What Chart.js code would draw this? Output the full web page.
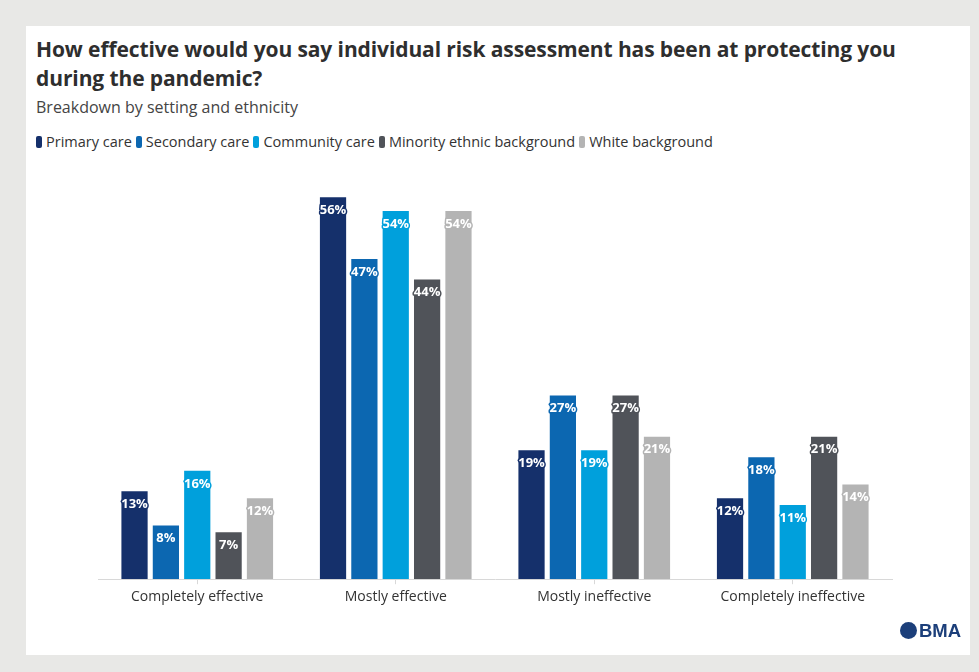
<!DOCTYPE html>
<html>
<head>
<meta charset="utf-8">
<script src="https://cdn.jsdelivr.net/npm/chart.js@4"></script>
<style>
  body { margin: 0; background: #e8e8e6; width: 979px; height: 672px; overflow: hidden; font-family: "Open Sans", sans-serif; }
  #panel { position: absolute; left: 26px; top: 26px; width: 944px; height: 629px; background: #fff; }
  #title { position: absolute; left: 10px; top: 9px; font-size: 21px; font-weight: 700; color: #2e2e2e; line-height: 29px; letter-spacing: -0.1px; white-space: nowrap; }
  #subtitle { position: absolute; left: 10px; top: 70px; font-size: 16px; color: #444; white-space: nowrap; }
  #legend { position: absolute; left: 10px; top: 106px; font-size: 14.5px; color: #333; white-space: nowrap; }
  #legend span.item { margin-right: 4px; }
  #legend span.box { display: inline-block; width: 6px; height: 12px; border-radius: 2px; margin-right: 4px; vertical-align: -1px; }
  #wrap { position: absolute; left: 0; top: 134px; width: 944px; height: 495px; }
  #logo { position: absolute; left: 874px; top: 594px; font-size: 18.5px; font-weight: 700; color: #1c3f7a; font-family: "Liberation Sans", Arial, sans-serif; }
  #logo span { display: inline-block; width: 17px; height: 17px; border-radius: 50%; background: #1c3f7a; vertical-align: -2px; margin-right: 2px; }
</style>
</head>
<body>
<div id="panel">
  <div id="title">How effective would you say individual risk assessment has been at protecting you<br>during the pandemic?</div>
  <div id="subtitle">Breakdown by setting and ethnicity</div>
  <div id="legend"></div>
  <div id="wrap"><canvas id="grafica"></canvas></div>
  <div id="logo"><span></span>BMA</div>
</div>
<script>
const categorias = ['Completely effective', 'Mostly effective', 'Mostly ineffective', 'Completely ineffective'];
const nombres = ['Primary care', 'Secondary care', 'Community care', 'Minority ethnic background', 'White background'];
const colores = ['#15306b', '#0c67b1', '#00a0dc', '#505359', '#b4b4b4'];
const primaria = [13, 56, 19, 12];
const secundaria = [8, 47, 27, 18];
const comunitaria = [16, 54, 19, 11];
const minoria = [7, 44, 27, 21];
const blanca = [12, 54, 21, 14];
const series = [primaria, secundaria, comunitaria, minoria, blanca];

// leyenda en html
const leyenda = document.getElementById('legend');
nombres.forEach((n, i) => {
    const item = document.createElement('span');
    item.className = 'item';
    item.innerHTML = '<span class="box" style="background:' + colores[i] + '"></span>' + n;
    leyenda.appendChild(item);
});

const etiquetas = {
    id: 'etiquetas',
    afterDatasetsDraw(chart) {
        const ctx = chart.ctx;
        ctx.save();
        ctx.font = 'bold 13px "Open Sans", sans-serif';
        ctx.textAlign = 'center';
        ctx.textBaseline = 'middle';
        ctx.lineJoin = 'round';
        chart.data.datasets.forEach((ds, i) => {
            chart.getDatasetMeta(i).data.forEach((bar, j) => {
                const txt = ds.data[j] + '%';
                const y = bar.y + 14;
                ctx.lineWidth = 3;
                ctx.strokeStyle = ds.backgroundColor;
                ctx.strokeText(txt, bar.x, y);
                ctx.fillStyle = '#fff';
                ctx.fillText(txt, bar.x, y);
            });
        });
        ctx.restore();
    }
};

new Chart(document.getElementById('grafica'), {
    type: 'bar',
    data: {
        labels: categorias,
        datasets: series.map((d, i) => ({
            label: nombres[i],
            data: d,
            backgroundColor: colores[i],
            borderColor: '#ffffff',
            borderWidth: 1,
            categoryPercentage: 0.79,
            barPercentage: 0.9
        }))
    },
    options: {
        responsive: true,
        maintainAspectRatio: false,
        animation: false,
        layout: { padding: { left: 72, right: 78, top: 9, bottom: 46 } },
        plugins: { legend: { display: false }, tooltip: { enabled: false } },
        scales: {
            y: { display: false, min: 0, max: 60 },
            x: {
                grid: { display: true, drawOnChartArea: false, offset: false, color: '#d8d8d8', tickLength: 5 },
                border: { color: '#d8d8d8' },
                ticks: { color: '#333', font: { family: '"Open Sans", sans-serif', size: 14 }, padding: 4 }
            }
        }
    },
    plugins: [etiquetas]
});
</script>
</body>
</html>
